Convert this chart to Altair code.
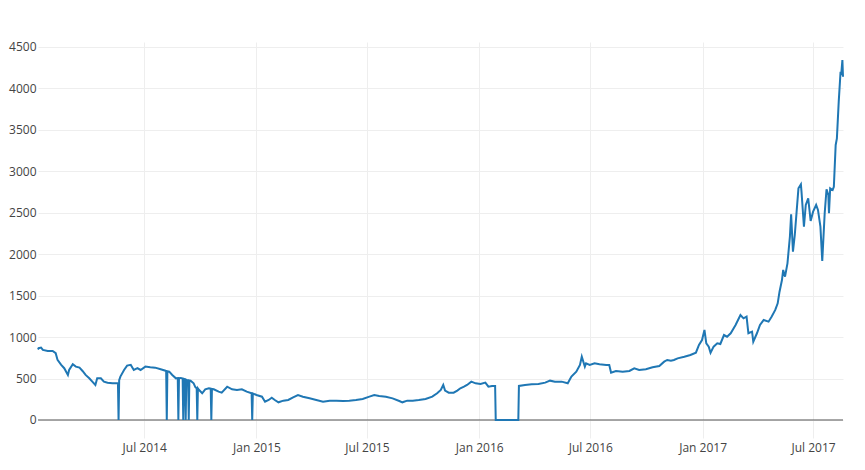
import altair as alt
import pandas as pd

dates = [
    "2014-01-08", "2014-01-09", "2014-01-13", "2014-01-16", "2014-01-24", "2014-02-01", "2014-02-06",
    "2014-02-09", "2014-02-15", "2014-02-20", "2014-02-26", "2014-02-28", "2014-03-06", "2014-03-11",
    "2014-03-17", "2014-03-22", "2014-03-27", "2014-04-02", "2014-04-07", "2014-04-12", "2014-04-15",
    "2014-04-21", "2014-04-26", "2014-05-02", "2014-05-10", "2014-05-18", "2014-05-19", "2014-05-20",
    "2014-05-21", "2014-05-23", "2014-05-29", "2014-06-03", "2014-06-09", "2014-06-14", "2014-06-20",
    "2014-06-25", "2014-07-03", "2014-07-11", "2014-07-19", "2014-07-28", "2014-08-05", "2014-08-06",
    "2014-08-07", "2014-08-08", "2014-08-11", "2014-08-16", "2014-08-22", "2014-08-25", "2014-08-26",
    "2014-08-27", "2014-08-30", "2014-09-02", "2014-09-03", "2014-09-04", "2014-09-06", "2014-09-07",
    "2014-09-08", "2014-09-09", "2014-09-11", "2014-09-12", "2014-09-13", "2014-09-15", "2014-09-20",
    "2014-09-23", "2014-09-25", "2014-09-26", "2014-09-27", "2014-09-29", "2014-10-04", "2014-10-09",
    "2014-10-15", "2014-10-18", "2014-10-19", "2014-10-20", "2014-10-23", "2014-10-31", "2014-11-05",
    "2014-11-14", "2014-11-22", "2014-11-30", "2014-12-08", "2014-12-16", "2014-12-24", "2014-12-25",
    "2014-12-26",
    "2015-01-01", "2015-01-10", "2015-01-15", "2015-01-21", "2015-01-26", "2015-01-31", "2015-02-06",
    "2015-02-14", "2015-02-22", "2015-03-02", "2015-03-10", "2015-03-18", "2015-03-29", "2015-04-09",
    "2015-04-20", "2015-05-01", "2015-05-12", "2015-05-23", "2015-06-02", "2015-06-13", "2015-06-24",
    "2015-07-05", "2015-07-13", "2015-07-21", "2015-08-01", "2015-08-12", "2015-08-23", "2015-08-28",
    "2015-09-05", "2015-09-14", "2015-09-24", "2015-10-05", "2015-10-16", "2015-10-24", "2015-10-30",
    "2015-11-03", "2015-11-06", "2015-11-12", "2015-11-20", "2015-11-26", "2015-12-01", "2015-12-07",
    "2015-12-12", "2015-12-19", "2015-12-26",
    "2016-01-03", "2016-01-11", "2016-01-16", "2016-01-22", "2016-01-27", "2016-01-28", "2016-03-05",
    "2016-03-06", "2016-03-16", "2016-03-27", "2016-04-07", "2016-04-18", "2016-04-26", "2016-05-04",
    "2016-05-15", "2016-05-25", "2016-05-31", "2016-06-08", "2016-06-14", "2016-06-17", "2016-06-22",
    "2016-06-24", "2016-06-30", "2016-07-08", "2016-07-16", "2016-07-27", "2016-08-01", "2016-08-04",
    "2016-08-12", "2016-08-23", "2016-09-03", "2016-09-11", "2016-09-19", "2016-09-30", "2016-10-11",
    "2016-10-22", "2016-10-30", "2016-11-04", "2016-11-10", "2016-11-15", "2016-11-21", "2016-12-02",
    "2016-12-12", "2016-12-21", "2016-12-26", "2016-12-31",
    "2017-01-04", "2017-01-07", "2017-01-11", "2017-01-14", "2017-01-19", "2017-01-25", "2017-01-30",
    "2017-02-05", "2017-02-10", "2017-02-16", "2017-02-24", "2017-03-04", "2017-03-09", "2017-03-14",
    "2017-03-17", "2017-03-23", "2017-03-25", "2017-03-31", "2017-04-05", "2017-04-11", "2017-04-19",
    "2017-04-24", "2017-04-30", "2017-05-04", "2017-05-07", "2017-05-11", "2017-05-13", "2017-05-16",
    "2017-05-20", "2017-05-24", "2017-05-26", "2017-05-29", "2017-06-01", "2017-06-04", "2017-06-07",
    "2017-06-11", "2017-06-12", "2017-06-16", "2017-06-19", "2017-06-23", "2017-06-27", "2017-07-01",
    "2017-07-06", "2017-07-09", "2017-07-13", "2017-07-16", "2017-07-20", "2017-07-23", "2017-07-26",
    "2017-07-27", "2017-07-29", "2017-08-02", "2017-08-04", "2017-08-07", "2017-08-09", "2017-08-12",
    "2017-08-15", "2017-08-16", "2017-08-18", "2017-08-19",
]

prices = [
    850, 865, 873, 845, 832, 832, 805,
    724, 664, 624, 543, 603, 672, 643,
    631, 591, 543, 503, 462, 422, 503,
    503, 462, 450, 443, 443, 440, 0,
    480, 523, 603, 655, 664, 603, 624,
    603, 643, 635, 631, 612, 594, 590,
    0, 588, 582, 542, 502, 505, 0,
    505, 507, 500, 0, 495, 490, 0,
    485, 482, 478, 0, 476, 474, 442,
    394, 385, 0, 380, 361, 322, 370,
    382, 378, 0, 375, 370, 341, 329,
    401, 370, 362, 370, 341, 322, 0,
    320,
    301, 281, 221, 241, 269, 241, 213,
    233, 241, 273, 301, 281, 261, 241,
    221, 233, 233, 229, 233, 241, 253,
    281, 301, 289, 281, 261, 229, 213,
    233, 233, 241, 253, 281, 322, 362,
    422, 354, 329, 329, 354, 382, 401,
    422, 462, 442,
    434, 450, 401, 410, 410, 0, 0,
    410, 422, 430, 434, 450, 474, 462,
    462, 442, 523, 582, 663, 763, 643,
    683, 663, 683, 671, 663, 663, 570,
    591, 582, 591, 623, 603, 611, 635,
    651, 703, 723, 713, 723, 743, 763,
    783, 811, 904, 964,
    1085, 924, 884, 811, 884, 924, 916,
    1024, 1004, 1045, 1145, 1265, 1225, 1245,
    1045, 1064, 944, 1045, 1145, 1205, 1185,
    1245, 1326, 1406, 1546, 1687, 1808, 1727,
    1888, 2209, 2479, 2028, 2229, 2510, 2792,
    2840, 2751, 2329, 2591, 2671, 2398, 2510,
    2591, 2531, 2329, 1916, 2491, 2780, 2711,
    2491, 2792, 2771, 2811, 3314, 3394, 3836,
    4197, 4157, 4338, 4137,
]

y_ticks = [0, 500, 1000, 1500, 2000, 2500, 3000, 3500, 4000, 4500]
x_tick_months = [(2014, 7), (2015, 1), (2015, 7), (2016, 1), (2016, 7), (2017, 1), (2017, 7)]

df = pd.DataFrame({"date": pd.to_datetime(dates), "price": prices})
zero_df = pd.DataFrame({"zero": [0]})

FONT = "Open Sans"
x_values = [alt.DateTime(year=y, month=m, date=1) for y, m in x_tick_months]

x_scale = alt.Scale(
    domain=[alt.DateTime(year=2014, month=1, date=8), alt.DateTime(year=2017, month=8, date=19)],
    nice=False,
)
y_scale = alt.Scale(domain=[-217, 4555], nice=False, zero=False)

zero_rule = alt.Chart(zero_df).mark_rule(color="#555555", strokeWidth=1).encode(
    y=alt.Y("zero:Q", scale=y_scale, title=None)
)

line = alt.Chart(df).mark_line(color="#1f77b4", strokeWidth=2, interpolate="linear").encode(
    x=alt.X(
        "date:T",
        scale=x_scale,
        title=None,
        axis=alt.Axis(
            values=x_values,
            format="%b %Y",
            grid=True,
            gridColor="#eeeeee",
            domain=False,
            ticks=False,
            labelPadding=4,
            labelFont=FONT,
            labelFontSize=12,
            labelColor="#444444",
        ),
    ),
    y=alt.Y(
        "price:Q",
        scale=y_scale,
        title=None,
        axis=alt.Axis(
            values=y_ticks,
            format="d",
            grid=True,
            gridColor="#eeeeee",
            domain=False,
            ticks=False,
            labelPadding=2,
            labelFont=FONT,
            labelFontSize=12,
            labelColor="#444444",
        ),
    ),
)

chart = (
    alt.layer(zero_rule, line)
    .properties(
        width=805,
        height=396,
        autosize=alt.AutoSizeParams(type="none"),
        padding={"left": 30, "top": 34, "right": 10, "bottom": 24},
    )
    .configure_view(stroke="transparent")
)

chart.save("out.html", embed_options={"renderer": "svg", "actions": False})
